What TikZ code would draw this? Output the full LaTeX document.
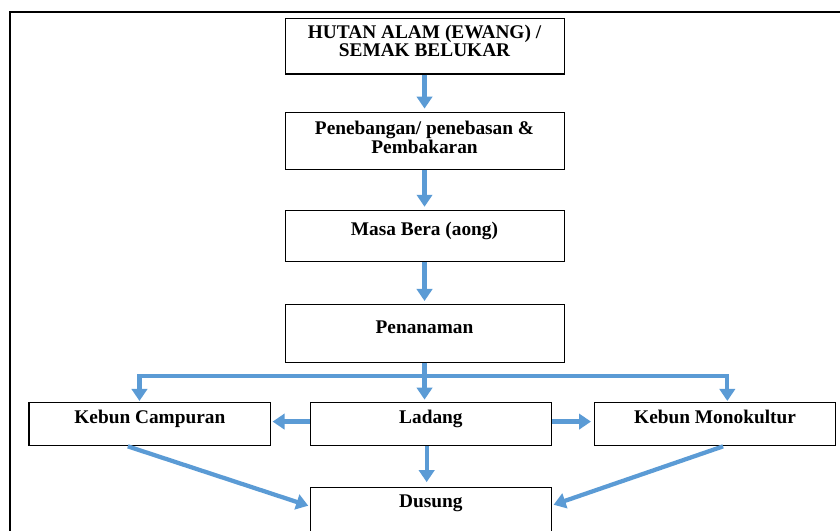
\documentclass[tikz,border=0pt]{standalone}
\usepackage{fontspec}
\setmainfont{Liberation Serif}
\usetikzlibrary{arrows.meta,positioning}
\definecolor{flowblue}{HTML}{5B9BD5}

\begin{document}
\begin{tikzpicture}[on grid, node distance=71.2pt,
    stage/.style={draw, line width=0.8pt, inner sep=0pt, align=center,
      font=\bfseries\fontsize{14.5pt}{13.2pt}\selectfont},
    wide/.style={stage, minimum width=209.25pt},
    small/.style={stage, minimum width=181.3pt},
    flow/.style={draw=flowblue, line width=3.2pt, shorten >=2.5pt,
      -{Triangle[width=11.5pt,length=9pt]}}]
   \useasboundingbox (0,0) rectangle (630pt,-398.25pt);
   \draw[line width=1.5pt] (7.5pt,-9pt) rectangle (640pt,-410pt);

   \node[wide, text height=28.5pt, text depth=13.1pt] (hutan) at (318.4pt,-34.7pt) {HUTAN ALAM (EWANG) /\\SEMAK BELUKAR};
   \node[wide, text height=31.1pt, text depth=12pt]   (tebang) [below=of hutan]  {Penebangan/ penebasan \&\\Pembakaran};
   \node[wide, text height=19pt, text depth=19.25pt]  (bera)   [below=of tebang] {Masa Bera (aong)};
   \node[wide, text height=21.2pt, text depth=21.9pt] (tanam)  [below=73.1pt of bera] {Penanaman};
   \node[small, text height=15.75pt, text depth=17pt] (ladang) [below right=67.8pt and 4.8pt of tanam] {Ladang};
   \node[small, text height=15.75pt, text depth=17pt] (campur) [left=210.8pt of ladang]  {Kebun Campuran};
   \node[small, text height=15.75pt, text depth=17pt] (mono)   [right=213.1pt of ladang] {Kebun Monokultur};
   \node[small, text height=15pt, text depth=28pt]    (dusung) [below=69pt of ladang]    {Dusung};

   \path
    (hutan)  edge[flow] (tebang)
    (tebang) edge[flow] (bera)
    (bera)   edge[flow] (tanam);

   % cabang dari penanaman
   \draw[flow, shorten >=1.5pt] (tanam.south) -- (tanam.south |- ladang.north);
   \draw[flow, shorten >=0.5pt] (tanam.south) -- ++(0,-9.9pt) -| ([xshift=-7.8pt]campur.north);
   \draw[flow, shorten >=0.5pt] (tanam.south) -- ++(0,-9.9pt) -| ([xshift=9.2pt]mono.north);

   \draw[flow, shorten >=1pt] ([yshift=1.8pt]ladang.west) -- ([yshift=1.8pt]campur.east);
   \draw[flow, shorten >=2pt] ([yshift=1.8pt]ladang.east) -- ([yshift=1.8pt]mono.west);
   \draw[flow, shorten >=3.5pt] ([xshift=-3.2pt]ladang.south) -- ([xshift=-3.2pt]dusung.north);
   \draw[flow, shorten >=1pt] ([xshift=-16.5pt]campur.south) -- ([yshift=-14.5pt]dusung.north west);
   \draw[flow, shorten >=1pt] ([xshift=6pt]mono.south) -- ([yshift=-13.8pt]dusung.north east);
\end{tikzpicture}
\end{document}
